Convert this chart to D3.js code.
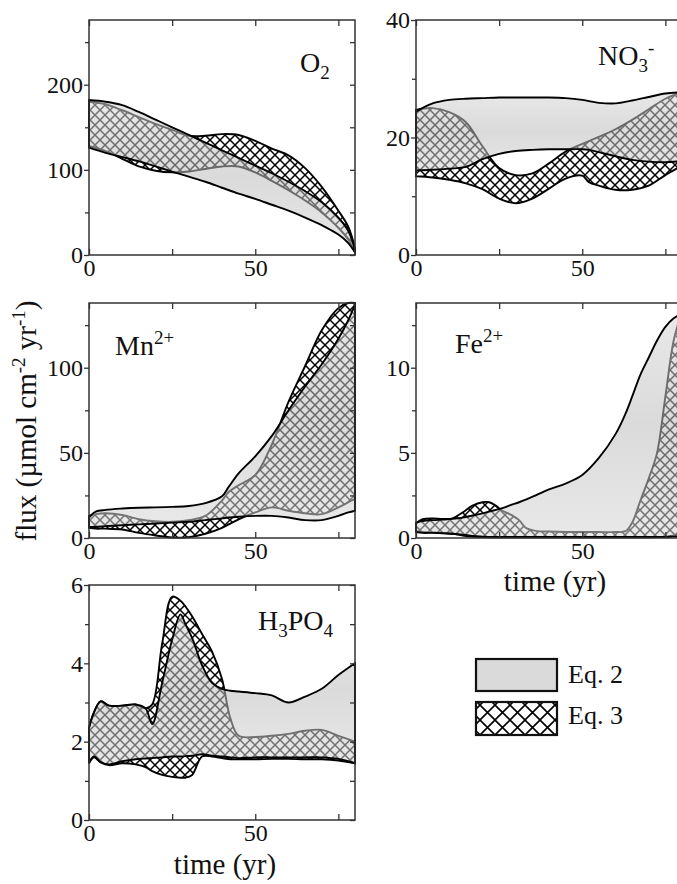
<!DOCTYPE html>
<html>
<head>
<meta charset="utf-8">
<script src="https://cdn.jsdelivr.net/npm/d3@7"></script>
<style>
body { margin: 0; background: #fff; }
svg { display: block; font-family: "Liberation Serif", "Times New Roman", serif; }
</style>
</head>
<body>
<script>
// ---- data (time in yr, flux in umol cm-2 yr-1) ----
var o2Time  = [0, 5, 10, 15, 20, 25, 30, 35, 40, 45, 50, 55, 60, 65, 70, 75, 78, 80];
var o2Eq2Up = [182, 180, 176, 168, 159, 150, 141, 132, 123, 114, 105, 96, 86, 75, 62, 44, 28, 6];
var o2Eq2Lo = [126, 120, 115, 110, 104, 98, 92, 86, 79, 72, 66, 59, 52, 44, 35, 24, 14, 3];
var o2Eq3Up = [180, 177, 170, 162, 154, 147, 140, 140, 142, 141, 134, 125, 117, 102, 80, 52, 33, 8];
var o2Eq3Lo = [128, 122, 113, 104, 99, 97, 98, 101, 104, 104, 97, 87, 76, 64, 50, 32, 18, 4];

var no3Time  = [0, 5, 10, 15, 20, 25, 30, 35, 40, 45, 50, 52, 55, 60, 65, 70, 75, 80];
var no3Eq2Up = [24.4, 25.8, 26.4, 26.6, 26.7, 26.8, 26.8, 26.8, 26.8, 26.7, 26.4, 26.2, 25.9, 25.8, 26.3, 26.9, 27.5, 27.7];
var no3Eq2Lo = [14.4, 14.5, 14.7, 15.0, 16.3, 17.2, 17.7, 17.9, 18.0, 18.0, 18.0, 17.9, 17.5, 16.8, 16.2, 15.9, 15.8, 16.0];
var no3Eq3Up = [24.7, 25.0, 24.3, 22.6, 18.5, 14.8, 13.6, 13.9, 15.6, 17.6, 18.9, 19.4, 20.1, 21.4, 23.0, 24.8, 26.6, 27.7];
var no3Eq3Lo = [13.4, 13.2, 12.8, 12.2, 11.2, 9.6, 8.8, 9.6, 11.3, 13.0, 13.5, 12.4, 11.8, 11.1, 11.1, 11.8, 13.6, 15.2];

var mnTime  = [0, 2, 5, 10, 15, 20, 25, 30, 35, 40, 42, 45, 50, 55, 60, 65, 70, 75, 78, 80];
var mnEq2Up = [12, 15.5, 16.5, 17.3, 17.8, 18, 18.3, 18.8, 20.5, 24.5, 30, 38, 48, 60, 75, 89, 102, 117, 128, 137];
var mnEq2Lo = [6.5, 6.5, 7, 7.5, 8, 8.5, 9, 9.5, 10.5, 11.5, 12, 12.5, 13, 13, 12, 10.5, 10.5, 13, 15, 16];
var mnEq3Up = [13, 14, 14.5, 13.5, 11, 9.8, 9.5, 10.5, 13, 22, 27, 31, 37, 55, 80, 101, 122, 135, 138, 138];
var mnEq3Lo = [6, 5.5, 5.5, 5, 3, 1.5, 0.3, 0.5, 2.5, 6, 8, 11, 15, 18, 16, 14.5, 14, 18, 21, 23];

var feTime  = [0, 2, 5, 8, 11, 14, 17, 20, 22, 24, 26, 28, 31, 33, 36, 40, 45, 50, 55, 60, 63, 65, 67.5, 70, 72.5, 75, 77.5, 80];
var feEq2Up = [0.9, 1.0, 1.05, 1.08, 1.12, 1.2, 1.32, 1.45, 1.55, 1.65, 1.75, 1.9, 2.1, 2.25, 2.5, 2.85, 3.2, 3.7, 4.7, 6.1, 7.3, 8.3, 9.6, 10.6, 11.6, 12.4, 12.9, 13.2];
var feEq2Lo = [0.35, 0.3, 0.3, 0.28, 0.25, 0.2, 0.12, 0.08, 0.06, 0.06, 0.06, 0.06, 0.06, 0.06, 0.06, 0.06, 0.06, 0.06, 0.06, 0.06, 0.06, 0.06, 0.06, 0.06, 0.06, 0.06, 0.08, 0.1];
var feEq3Up = [0.85, 1.1, 1.15, 1.12, 1.15, 1.5, 1.9, 2.1, 2.1, 1.9, 1.6, 1.42, 1.05, 0.6, 0.42, 0.38, 0.35, 0.35, 0.35, 0.35, 0.4, 0.9, 2.2, 3.5, 5.0, 8.3, 11.6, 13.3];
var feEq3Lo = [0.4, 0.35, 0.33, 0.3, 0.25, 0.15, 0.08, 0.05, 0.04, 0.04, 0.04, 0.04, 0.04, 0.04, 0.04, 0.04, 0.04, 0.04, 0.04, 0.04, 0.04, 0.04, 0.04, 0.04, 0.05, 0.08, 0.15, 0.3];

var hTime  = [0, 1.5, 3.5, 6, 10, 14, 17, 19, 22, 25, 27.5, 29, 31, 34, 37, 40, 42.5, 45, 50, 55, 60, 65, 70, 75, 80];
var hEq2Up = [2.35, 2.75, 3.03, 2.92, 2.92, 2.95, 2.85, 2.45, 3.5, 4.6, 5.25, 5.0, 4.65, 3.95, 3.5, 3.35, 3.3, 3.28, 3.24, 3.18, 3.0, 3.15, 3.35, 3.7, 4.0];
var hEq2Lo = [1.45, 1.62, 1.48, 1.42, 1.5, 1.55, 1.57, 1.58, 1.6, 1.62, 1.62, 1.63, 1.64, 1.68, 1.64, 1.62, 1.6, 1.58, 1.6, 1.6, 1.6, 1.6, 1.6, 1.56, 1.45];
var hEq3Up = [2.35, 2.75, 3.03, 2.92, 2.92, 2.95, 2.85, 2.95, 4.5, 5.7, 5.6, 5.45, 5.2, 4.75, 4.3, 3.6, 2.6, 2.15, 2.12, 2.15, 2.2, 2.28, 2.3, 2.15, 2.0];
var hEq3Lo = [1.45, 1.6, 1.47, 1.4, 1.45, 1.42, 1.35, 1.25, 1.15, 1.1, 1.08, 1.08, 1.15, 1.62, 1.62, 1.58, 1.55, 1.55, 1.55, 1.56, 1.56, 1.55, 1.55, 1.52, 1.45];

var timeMajor = [0, 50];
var timeMinor = [25, 75];
var legendNames = ["Eq. 2", "Eq. 3"];

var W = 677, H = 884;
var svg = d3.select("body").append("svg").attr("width", W).attr("height", H);
var defs = svg.append("defs");

function makeHatch(id, size, sw) {
    var p = defs.append("pattern").attr("id", id)
        .attr("patternUnits", "userSpaceOnUse")
        .attr("width", size).attr("height", size);
    p.append("path")
        .attr("d", "M0,0L" + size + "," + size + "M" + size + ",0L0," + size)
        .attr("stroke", "#000").attr("stroke-width", sw).attr("fill", "none");
}
makeHatch("hatch", 10, 1.5);
makeHatch("hatchBig", 15, 1.6);

var grad = defs.append("linearGradient").attr("id", "grayband")
    .attr("x1", 0).attr("y1", 0).attr("x2", 0).attr("y2", 1);
grad.append("stop").attr("offset", "0%").attr("stop-color", "#d6d6d6");
grad.append("stop").attr("offset", "50%").attr("stop-color", "#bcbcbc");
grad.append("stop").attr("offset", "100%").attr("stop-color", "#d6d6d6");

var panels = [
    { left: 89,  top: 20,  bottom: 255, ymax: 276, major: [0, 100, 200], minor: [50, 150, 250],
      time: o2Time, e2u: o2Eq2Up, e2l: o2Eq2Lo, e3u: o2Eq3Up, e3l: o2Eq3Lo,
      label: [["O", 0], ["2", 1]], lx: 300, ly: 72 },
    { left: 416, top: 20,  bottom: 255, ymax: 40, major: [0, 20, 40], minor: [10, 30],
      time: no3Time, e2u: no3Eq2Up, e2l: no3Eq2Lo, e3u: no3Eq3Up, e3l: no3Eq3Lo,
      label: [["NO", 0], ["3", 1], ["-", -1]], lx: 598, ly: 65 },
    { left: 89,  top: 303, bottom: 538, ymax: 138, major: [0, 50, 100], minor: [25, 75, 125],
      time: mnTime, e2u: mnEq2Up, e2l: mnEq2Lo, e3u: mnEq3Up, e3l: mnEq3Lo,
      label: [["Mn", 0], ["2+", -1]], lx: 115, ly: 355 },
    { left: 416, top: 303, bottom: 538, ymax: 13.8, major: [0, 5, 10], minor: [2.5, 7.5, 12.5],
      time: feTime, e2u: feEq2Up, e2l: feEq2Lo, e3u: feEq3Up, e3l: feEq3Lo,
      label: [["Fe", 0], ["2+", -1]], lx: 455, ly: 353 },
    { left: 89,  top: 585, bottom: 820, ymax: 6, major: [0, 2, 4, 6], minor: [1, 3, 5],
      time: hTime, e2u: hEq2Up, e2l: hEq2Lo, e3u: hEq3Up, e3l: hEq3Lo,
      label: [["H", 0], ["3", 1], ["PO", 0], ["4", 1]], lx: 258, ly: 630 }
];

function styleAxis(a) {
    a.select(".domain").remove();
    a.selectAll("line").attr("stroke", "#333").attr("stroke-width", 1.3);
    a.selectAll("text").attr("font-size", 24).attr("fill", "#111")
        .attr("font-family", "Liberation Serif, Times New Roman, serif");
}

function drawPanel(p) {
    var x = d3.scaleLinear().domain([0, 80]).range([p.left, p.left + 266]);
    var y = d3.scaleLinear().domain([0, p.ymax]).range([p.bottom, p.top]);
    var g = svg.append("g");
    var idx = d3.range(p.time.length);

    function band(up, lo) {
        return d3.area()
            .x(function(i) { return x(p.time[i]); })
            .y0(function(i) { return y(lo[i]); })
            .y1(function(i) { return y(up[i]); })
            .curve(d3.curveCatmullRom.alpha(0.5))(idx);
    }

    // Eq. 3 hatched band underneath, Eq. 2 grey band washed over it
    g.append("path").attr("d", band(p.e3u, p.e3l))
        .attr("fill", "url(#hatch)").attr("stroke", "#000").attr("stroke-width", 1.9);
    g.append("path").attr("d", band(p.e2u, p.e2l))
        .attr("fill", "url(#grayband)").attr("fill-opacity", 0.55).attr("stroke", "none");
    g.append("path").attr("d", band(p.e2u, p.e2l))
        .attr("fill", "none").attr("stroke", "#000").attr("stroke-width", 1.9);

    // frame
    g.append("rect").attr("x", x(0)).attr("y", y(p.ymax))
        .attr("width", x(80) - x(0)).attr("height", y(0) - y(p.ymax))
        .attr("fill", "none").attr("stroke", "#333").attr("stroke-width", 1.5);

    var fmt = function(d) { return d3.format("d")(d); };
    var ax;
    ax = g.append("g").attr("transform", "translate(" + x(0) + ",0)")
        .call(d3.axisLeft(y).tickValues(p.major).tickSize(5).tickPadding(1).tickFormat(fmt));
    styleAxis(ax);
    ax = g.append("g").attr("transform", "translate(" + x(0) + ",0)")
        .call(d3.axisLeft(y).tickValues(p.minor).tickSize(4).tickFormat(""));
    styleAxis(ax);
    ax = g.append("g").attr("transform", "translate(" + x(80) + ",0)")
        .call(d3.axisRight(y).tickValues(p.major.concat(p.minor)).tickSizeInner(-5).tickSizeOuter(0).tickFormat(""));
    styleAxis(ax);
    ax = g.append("g").attr("transform", "translate(0," + y(0) + ")")
        .call(d3.axisBottom(x).tickValues(timeMajor).tickSizeInner(-6).tickSizeOuter(0).tickPadding(4).tickFormat(fmt));
    styleAxis(ax);
    ax = g.append("g").attr("transform", "translate(0," + y(0) + ")")
        .call(d3.axisBottom(x).tickValues(timeMinor).tickSizeInner(-6).tickSizeOuter(0).tickFormat(""));
    styleAxis(ax);
    ax = g.append("g").attr("transform", "translate(0," + y(p.ymax) + ")")
        .call(d3.axisTop(x).tickValues(timeMajor.concat(timeMinor)).tickSizeInner(-6).tickSizeOuter(0).tickFormat(""));
    styleAxis(ax);

    // species label with sub/superscripts
    var t = g.append("text").attr("x", p.lx).attr("y", p.ly)
        .attr("font-size", 28).attr("fill", "#111");
    var shift = 0;
    p.label.forEach(function(part) {
        var want = part[1] === 1 ? 7 : (part[1] === -1 ? -11 : 0);
        var ts = t.append("tspan").text(part[0]).attr("dy", want - shift);
        if (part[1] !== 0) ts.attr("font-size", 19);
        shift = want;
    });
}

panels.forEach(drawPanel);

// axis titles
var yt = svg.append("text").attr("transform", "translate(36,421) rotate(-90)")
    .attr("text-anchor", "middle").attr("font-size", 29).attr("fill", "#111");
yt.append("tspan").text("flux (\u00b5mol cm");
yt.append("tspan").text("-2").attr("font-size", 19).attr("dy", -11);
yt.append("tspan").text(" yr").attr("dy", 11);
yt.append("tspan").text("-1").attr("font-size", 19).attr("dy", -11);
yt.append("tspan").text(")").attr("dy", 11);

svg.append("text").attr("x", 555).attr("y", 591).attr("text-anchor", "middle")
    .attr("font-size", 29).attr("fill", "#111").text("time (yr)");
svg.append("text").attr("x", 225).attr("y", 874).attr("text-anchor", "middle")
    .attr("font-size", 29).attr("fill", "#111").text("time (yr)");

// legend
var leg = svg.append("g");
leg.append("rect").attr("x", 476).attr("y", 659).attr("width", 81).attr("height", 32)
    .attr("fill", "#dadada").attr("stroke", "#111").attr("stroke-width", 2.2);
leg.append("rect").attr("x", 476).attr("y", 702).attr("width", 81).attr("height", 33)
    .attr("fill", "#fff").attr("stroke", "none");
leg.append("rect").attr("x", 476).attr("y", 702).attr("width", 81).attr("height", 33)
    .attr("fill", "url(#hatchBig)").attr("stroke", "#111").attr("stroke-width", 2.2);
leg.selectAll("text.lab").data(legendNames).enter().append("text")
    .attr("class", "lab")
    .attr("x", 568).attr("y", function(d, i) { return 683 + i * 41; })
    .attr("font-size", 26).attr("fill", "#111")
    .text(function(d) { return d; });
</script>
</body>
</html>
